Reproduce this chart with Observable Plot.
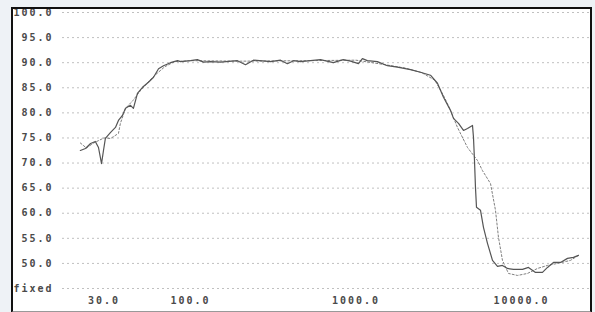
<!DOCTYPE html>
<html>
<head>
<meta charset="utf-8">
<script src="https://cdn.jsdelivr.net/npm/d3@7"></script>
<script src="https://cdn.jsdelivr.net/npm/@observablehq/plot@0.6"></script>
<style>
  html, body { margin: 0; padding: 0; background: #eef2f6; }
  #frame {
    position: absolute; left: 11px; top: 7px;
    width: 577px; height: 302px;
    border: 2px solid #111; border-bottom-color: #999;
    background: #fff; overflow: hidden;
  }
</style>
</head>
<body>
<div id="frame"></div>
<script>
// Measured response (solid line): frequency (Hz) and level
const solidFreq = [21.6, 23.2, 24.9, 26.6, 27.8, 29.0, 29.8, 30.6, 32.9, 35.2, 36.7, 38.8, 40.5, 43.4, 45.2, 47.8, 51.3, 55.7, 59.8, 64.1, 68.7, 75.7, 83.5, 87, 100, 110, 120, 132, 152, 192, 215, 240, 305, 350, 385, 420, 462, 610, 730, 837, 927, 1035, 1093, 1171, 1347, 1548, 1780, 2134, 2454, 2818, 3107, 3378, 3725, 3882, 4164, 4462, 4718, 5057, 5128, 5200, 5272, 5346, 5651, 5892, 6230, 6680, 7161, 7675, 8226, 8945, 10140, 11020, 12150, 13390, 14360, 15610, 17200, 18970, 20610, 22090];
const solidLevel = [72.5, 72.9, 73.9, 74.3, 73.1, 69.9, 72.5, 74.9, 76.1, 77.1, 78.5, 79.5, 80.9, 81.5, 80.9, 83.9, 85.1, 86.1, 87.1, 88.8, 89.4, 90.0, 90.4, 90.2, 90.4, 90.6, 90.1, 90.2, 90.1, 90.4, 89.6, 90.5, 90.2, 90.5, 89.8, 90.4, 90.2, 90.6, 90.0, 90.6, 90.3, 89.8, 90.8, 90.4, 90.2, 89.4, 89.1, 88.6, 88.1, 87.5, 85.9, 83.1, 80.5, 78.9, 77.9, 76.5, 76.9, 77.5, 75.1, 70.5, 65.1, 61.2, 60.6, 57.2, 54.0, 50.6, 49.4, 49.6, 49.0, 48.8, 48.8, 49.2, 48.2, 48.2, 49.2, 50.2, 50.2, 51.0, 51.2, 51.6];

// Reference / target response (dotted line)
const dottedFreq = [21.6, 23.5, 26, 30, 32.9, 36.7, 37.7, 40.5, 45, 50, 55, 60, 70, 80, 100, 200, 500, 1000, 1500, 2000, 2500, 3000, 3400, 3725, 4103, 4718, 5424, 5810, 6500, 6963, 7260, 7675, 8346, 9460, 10870, 12500, 14360, 16510, 19770, 22090];
const dottedLevel = [74.0, 73.0, 74.0, 75.0, 74.9, 75.9, 77.9, 80.9, 82.5, 84.5, 86.0, 87.3, 89.2, 90.2, 90.4, 90.3, 90.4, 90.5, 89.6, 88.9, 88.0, 86.5, 83.3, 80.5, 77.1, 73.1, 70.5, 68.5, 65.9, 60.6, 55.2, 50.6, 48.0, 47.6, 48.0, 49.0, 49.6, 50.0, 50.6, 51.6];

// Axis ticks and their labels
const xTickValues = [30, 100, 1000, 10000];
const xTickLabels = ["30.0", "100.0", "1000.0", "10000.0"];
const yTickValues = [45, 50, 55, 60, 65, 70, 75, 80, 85, 90, 95, 100];
const yTickLabels = ["fixed", "50.0", "55.0", "60.0", "65.0", "70.0", "75.0", "80.0", "85.0", "90.0", "95.0", "100.0"];

const solid = solidFreq.map((f, i) => ({f, v: solidLevel[i]}));
const dotted = dottedFreq.map((f, i) => ({f, v: dottedLevel[i]}));

const chart = Plot.plot({
  width: 577,
  height: 302,
  marginLeft: 49,
  marginRight: 0,
  marginTop: 3,
  marginBottom: 23,
  style: {
    fontFamily: "'DejaVu Sans Mono', monospace",
    fontSize: "10px",
    fontWeight: "bold",
    letterSpacing: "2px",
    color: "#4a4a4a",
    background: "#fff",
    overflow: "visible"
  },
  x: {
    type: "log",
    domain: [16.85, 26120],
    ticks: xTickValues,
    tickFormat: d => xTickLabels[xTickValues.indexOf(d)],
    tickSize: 0,
    tickPadding: 8,
    label: null
  },
  y: {
    domain: [45, 100],
    ticks: yTickValues,
    tickFormat: d => yTickLabels[yTickValues.indexOf(d)],
    tickSize: 0,
    tickPadding: 9,
    label: null
  },
  marks: [
    Plot.gridY(yTickValues, {stroke: "#c0c0c0", strokeOpacity: 1, strokeDasharray: "2,3"}),
    Plot.line(dotted, {x: "f", y: "v", stroke: "#808080", strokeWidth: 1, strokeDasharray: "2,2"}),
    Plot.line(solid, {x: "f", y: "v", stroke: "#555", strokeWidth: 1.2})
  ]
});
document.getElementById("frame").appendChild(chart);
</script>
</body>
</html>
